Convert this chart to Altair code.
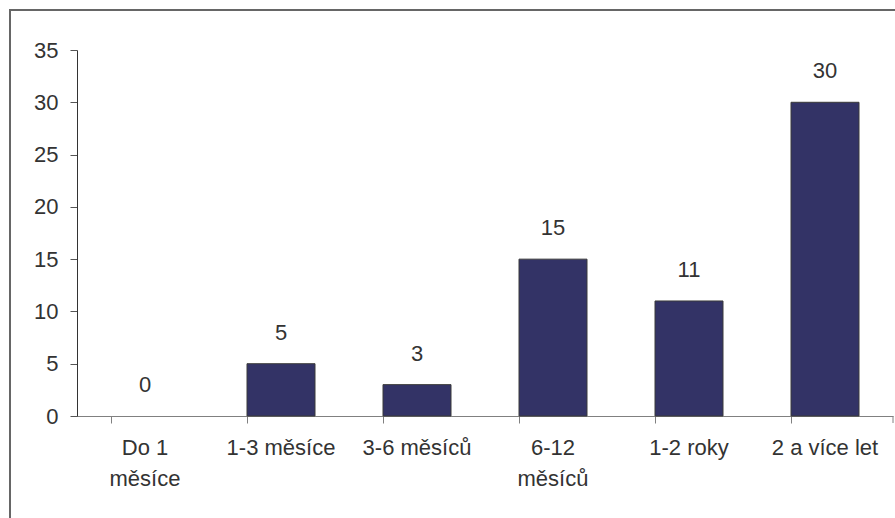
import altair as alt
import pandas as pd

# Categories ("|" marks a line break in the axis label) and counts
categories = ["Do 1|měsíce", "1-3 měsíce", "3-6 měsíců", "6-12|měsíců", "1-2 roky", "2 a více let"]
counts = [0, 5, 3, 15, 11, 30]
y_ticks = [0, 5, 10, 15, 20, 25, 30, 35]

df = pd.DataFrame({"kategorie": categories, "pocet": counts})

W, H = 816, 366
FONT = "Liberation Sans"
FS = 22
TEXT = "#333333"

x = alt.X(
    "kategorie:N",
    sort=categories,
    title=None,
    scale=alt.Scale(paddingInner=0.5, paddingOuter=0.25),
    axis=alt.Axis(
        labelAngle=0,
        labelExpr="split(datum.label, '|')",
        labelFont=FONT,
        labelFontSize=FS,
        labelColor=TEXT,
        labelLineHeight=31,
        labelPadding=14,
        labelBaseline="top",
        tickSize=7,
        tickColor="#808080",
        domainColor="#808080",
        bandPosition=0,
        labelBound=False,
        labelOverlap=False,
    ),
)
y = alt.Y(
    "pocet:Q",
    title=None,
    scale=alt.Scale(domain=[0, 35], nice=False),
    axis=alt.Axis(
        values=y_ticks,
        grid=False,
        labelFont=FONT,
        labelFontSize=FS,
        labelColor=TEXT,
        labelPadding=12,
        tickSize=7,
        tickColor="#555555",
        domainColor="#333333",
    ),
)

base = alt.Chart(df)

# empty categories get no bar outline
bars = (
    base.mark_bar(color="#333366", stroke="#3a3a3a", strokeWidth=1)
    .encode(x=x, y=y)
    .transform_filter("datum.pocet > 0")
)

labels = base.mark_text(
    baseline="bottom", dy=-19, font=FONT, fontSize=FS, color=TEXT
).encode(x=x, y=y, text=alt.Text("pocet:Q"))

# closing tick at the right end of the category axis
end_tick = alt.Chart(pd.DataFrame({"a": [0]})).mark_rule(color="#808080").encode(
    x=alt.value(W), y=alt.value(H), y2=alt.value(H + 7)
)

# frame around the whole chart
frame = alt.Chart(pd.DataFrame({"a": [0]})).mark_rect(
    fill=None, stroke="#666666", strokeWidth=2
).encode(
    x=alt.value(-67), x2=alt.value(W + 40), y=alt.value(-40), y2=alt.value(H + 140)
)

chart = (
    alt.layer(frame, bars, labels, end_tick)
    .properties(
        width=W,
        height=H,
        autosize=alt.AutoSizeParams(type="none"),
        padding={"left": 77, "top": 50, "right": 2, "bottom": 102},
        background="white",
    )
    .configure_view(stroke=None)
)

chart.save("out.html", embed_options={"renderer": "svg", "actions": False})
